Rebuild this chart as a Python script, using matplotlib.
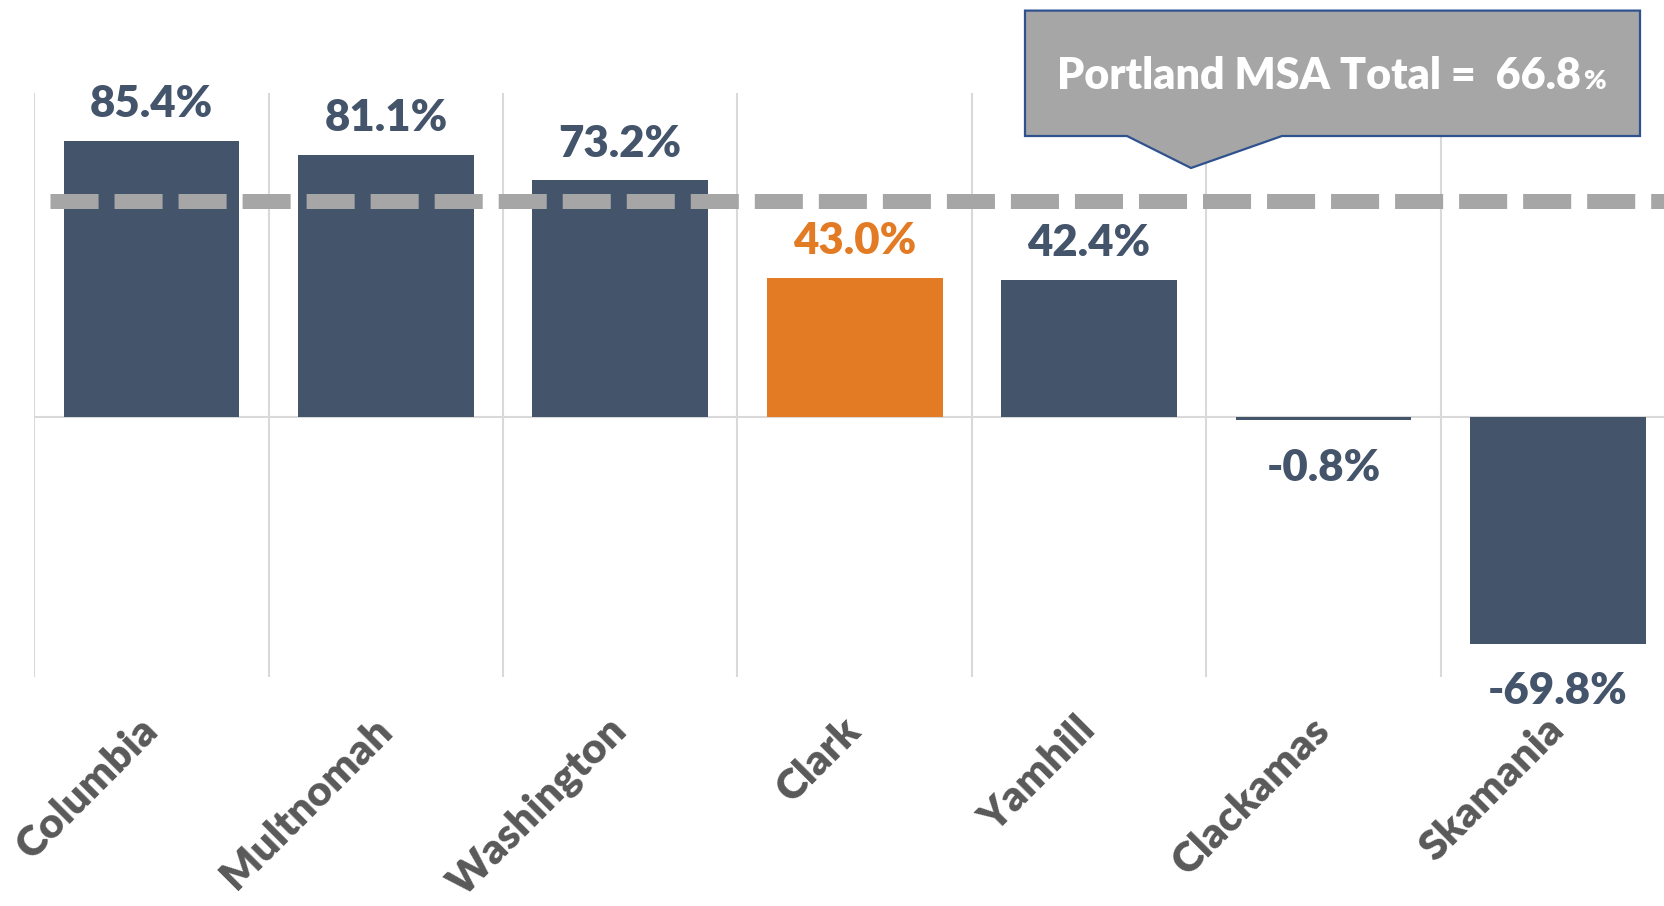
import matplotlib
matplotlib.use('Agg')
import matplotlib.pyplot as plt
from matplotlib.patches import Polygon
import numpy as np

counties = ['Columbia', 'Multnomah', 'Washington', 'Clark', 'Yamhill', 'Clackamas', 'Skamania']
growth = [85.4, 81.1, 73.2, 43.0, 42.4, -0.8, -69.8]
value_labels = ['85.4%', '81.1%', '73.2%', '43.0%', '42.4%', '-0.8%', '-69.8%']
highlight = 'Clark'
msa_total = 66.8
msa_text = 'Portland MSA Total =  66.8'

BLUE = '#44546A'
ORANGE = '#E37B24'
GRID = '#D9D9D9'
DASH = '#A6A6A6'
WEIGHT = 'heavy'

plt.rcParams['font.family'] = ['Lato', 'DejaVu Sans']
plt.rcParams['lines.scale_dashes'] = False

W, H = 1664, 906
fig = plt.figure(figsize=(W / 100, H / 100), dpi=100)
ax = fig.add_axes([34.3 / W, 1 - 676.7 / H, (1675 - 34.3) / W, (676.7 - 93.3) / H])
ax.set_xlim(-0.5, len(counties) - 0.5)
ax.set_ylim(-80, 100)

x = np.arange(len(counties))
colors = [ORANGE if c == highlight else BLUE for c in counties]

for b in np.arange(-0.5, len(counties), 1.0):
    ax.axvline(b, color=GRID, lw=1.5, zorder=0)
ax.axhline(0, color=GRID, lw=1.5, zorder=1)

ax.bar(x, growth, width=0.75, color=colors, zorder=2)

ln, = ax.plot([-0.433, len(counties) - 0.5], [msa_total, msa_total], color=DASH,
              lw=10.8, solid_capstyle='butt', dash_capstyle='butt', zorder=3)
ln.set_dashes((34.6, 11.5))

for xi, v, lab, c in zip(x, growth, value_labels, colors):
    if v >= 0:
        ax.annotate(lab, (xi, v), xytext=(0, 17), textcoords='offset points',
                    ha='center', va='baseline', fontsize=31.5, fontweight=WEIGHT, color=c)
    else:
        ax.annotate(lab, (xi, v), xytext=(0, -20), textcoords='offset points',
                    ha='center', va='top', fontsize=31.5, fontweight=WEIGHT, color=c)

ax.set_xticks(x)
ax.set_xticklabels(counties, rotation=45, ha='right', va='center', rotation_mode='anchor',
                   fontsize=30.5, fontweight=WEIGHT, color='#595959')
ax.tick_params(axis='x', length=0, pad=34)
ax.set_yticks([])
for s in ax.spines.values():
    s.set_visible(False)

# callout
def fx(px):
    return px / W

def fy(py):
    return 1 - py / H

verts = [(1025, 10.6), (1640, 10.6), (1640, 136), (1282, 136), (1191, 168),
         (1127, 136), (1025, 136)]
poly = Polygon([(fx(a), fy(b)) for a, b in verts], closed=True, transform=fig.transFigure,
               facecolor=DASH, edgecolor='#2F528F', lw=1.6, zorder=10)
fig.patches.append(poly)

t = fig.text(fx(1057), fy(89), msa_text, ha='left', va='baseline', fontsize=31,
             fontweight=WEIGHT, color='white', zorder=11)
fig.canvas.draw()
bb = t.get_window_extent()
fig.text(bb.x1 / W + 2 / W, fy(89), '%', ha='left', va='baseline', fontsize=19.5,
         fontweight=WEIGHT, color='white', zorder=11)

fig.savefig('out.png', dpi=100)
